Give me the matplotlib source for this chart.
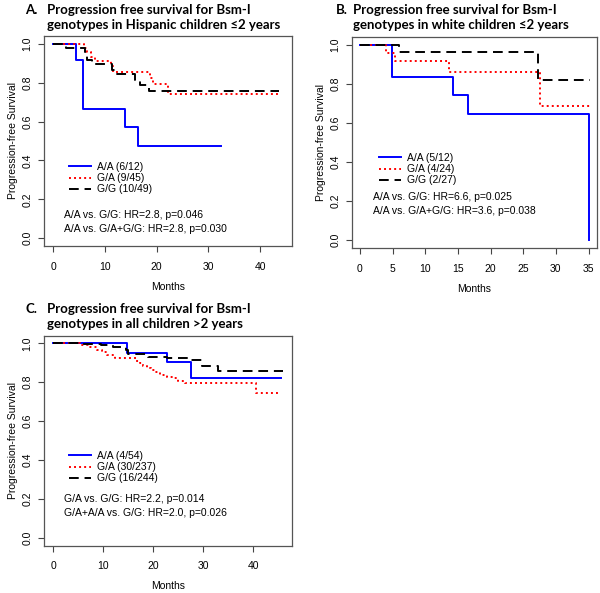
import numpy as np
import matplotlib
matplotlib.use("Agg")
import matplotlib.pyplot as plt
from matplotlib.lines import Line2D

plt.rcParams['font.family'] = ['Liberation Sans', 'DejaVu Sans']

# ---- Panel A: Hispanic children <=2 years
a_aa_t = [0, 4.4, 5.7, 13.9, 16.4]
a_aa_s = [1.0, 0.917, 0.667, 0.571, 0.476]
a_aa_end = 32.4
a_ga_t = [0, 6.0, 6.6, 7.3, 8.0, 11.1, 11.6, 18.7, 19.3, 22.2]
a_ga_s = [1.0, 0.978, 0.956, 0.933, 0.911, 0.885, 0.856, 0.826, 0.793, 0.744]
a_ga_end = 43.8
a_gg_t = [0, 2.5, 6.1, 6.6, 7.4, 11.3, 12.1, 15.8, 16.8, 18.6]
a_gg_s = [1.0, 0.98, 0.959, 0.918, 0.898, 0.867, 0.845, 0.815, 0.79, 0.755]
a_gg_end = 43.6
a_labels = ["A/A (6/12)", "G/A (9/45)", "G/G (10/49)"]
a_stats = ["A/A vs. G/G: HR=2.8, p=0.046", "A/A vs. G/A+G/G: HR=2.8, p=0.030"]

# ---- Panel B: white children <=2 years
b_aa_t = [0, 4.95, 14.2, 16.6, 35.1]
b_aa_s = [1.0, 0.833, 0.741, 0.648, 0.0]
b_aa_end = 35.1
b_ga_t = [0, 4.0, 5.4, 13.7, 27.6]
b_ga_s = [1.0, 0.958, 0.915, 0.86, 0.688]
b_ga_end = 35.3
b_gg_t = [0, 6.0, 27.2]
b_gg_s = [1.0, 0.962, 0.822]
b_gg_end = 35.3
b_labels = ["A/A (5/12)", "G/A (4/24)", "G/G (2/27)"]
b_stats = ["A/A vs. G/G: HR=6.6, p=0.025", "A/A vs. G/A+G/G: HR=3.6, p=0.038"]

# ---- Panel C: all children >2 years
c_aa_t = [0, 14.8, 22.8, 27.6]
c_aa_s = [1.0, 0.952, 0.903, 0.82]
c_aa_end = 45.5
c_ga_t = [0, 5.3, 7.0, 8.7, 9.7, 10.7, 12.3, 16.5, 17.3, 18.0, 18.7, 19.5,
          20.3, 21.3, 22.7, 24.0, 25.0, 26.3, 40.5]
c_ga_s = [1.0, 0.99, 0.98, 0.966, 0.955, 0.94, 0.923, 0.91, 0.897, 0.885,
          0.872, 0.862, 0.85, 0.838, 0.829, 0.82, 0.807, 0.798, 0.744]
c_ga_end = 45.3
c_gg_t = [0, 5.5, 9.5, 12.0, 14.5, 15.0, 19.0, 22.7, 27.5, 29.7, 33.0]
c_gg_s = [1.0, 0.995, 0.99, 0.98, 0.966, 0.945, 0.932, 0.923, 0.915, 0.885, 0.86]
c_gg_end = 45.9
c_labels = ["A/A (4/54)", "G/A (30/237)", "G/G (16/244)"]
c_stats = ["G/A vs. G/G: HR=2.2, p=0.014", "G/A+A/A vs. G/G: HR=2.0, p=0.026"]

styles = [dict(color="#0000ff", ls="-", lw=1.4),
          dict(color="#ff0000", ls=(0, (1, 1.6)), lw=1.4),
          dict(color="#000000", ls=(0, (5, 3)), lw=1.4)]

fig = plt.figure(figsize=(6, 5.93), dpi=100)


def km_panel(rect, curves, xlim, xticks, labels, stats, leg_xy, stat_xy):
    ax = fig.add_axes(rect)
    for (t, s, end), st in zip(curves, styles):
        ax.step(list(t) + [end], list(s) + [s[-1]], where="post", **st)
    ax.set_xlim(*xlim)
    ax.set_ylim(-0.04, 1.04)
    ax.set_xticks(xticks)
    ax.set_yticks([0, 0.2, 0.4, 0.6, 0.8, 1.0])
    ax.set_yticklabels(["0.0", "0.2", "0.4", "0.6", "0.8", "1.0"],
                       rotation=90, va="center")
    ax.tick_params(labelsize=7.5, length=4.5, color="#444444")
    ax.tick_params(axis="x", pad=7)
    ax.tick_params(axis="y", pad=4)
    for sp in ax.spines.values():
        sp.set_color("#555555")
        sp.set_linewidth(0.9)
    ax.set_xlabel("Months", fontsize=7.5, labelpad=7)
    ax.set_ylabel("Progression-free Survival", fontsize=7.5, labelpad=3)
    handles = [Line2D([0], [0], **st) for st in styles]
    ax.legend(handles, labels, loc="upper left", bbox_to_anchor=leg_xy,
              frameon=False, fontsize=7.5, handlelength=2.1,
              handletextpad=0.5, labelspacing=0.12, borderaxespad=0)
    ax.text(stat_xy[0], stat_xy[1], stats[0], transform=ax.transAxes,
            fontsize=7.5, va="center")
    ax.text(stat_xy[0], stat_xy[1] - 0.066, stats[1], transform=ax.transAxes,
            fontsize=7.5, va="center")
    return ax


km_panel([0.0738, 0.5852, 0.4123, 0.3541],
         [(a_aa_t, a_aa_s, a_aa_end), (a_ga_t, a_ga_s, a_ga_end),
          (a_gg_t, a_gg_s, a_gg_end)],
         (-1.74, 46.1), [0, 10, 20, 30, 40], a_labels, a_stats,
         (0.085, 0.42), (0.08, 0.148))

km_panel([0.5867, 0.5818, 0.4083, 0.3558],
         [(b_aa_t, b_aa_s, b_aa_end), (b_ga_t, b_ga_s, b_ga_end),
          (b_gg_t, b_gg_s, b_gg_end)],
         (-1.22, 36.3), [0, 5, 10, 15, 20, 25, 30, 35], b_labels, b_stats,
         (0.095, 0.47), (0.085, 0.24))

km_panel([0.0738, 0.0801, 0.4123, 0.3541],
         [(c_aa_t, c_aa_s, c_aa_end), (c_ga_t, c_ga_s, c_ga_end),
          (c_gg_t, c_gg_s, c_gg_end)],
         (-1.8, 47.7), [0, 10, 20, 30, 40], c_labels, c_stats,
         (0.085, 0.47), (0.08, 0.22))

# panel titles
tfont = dict(family=["Lato", "DejaVu Sans"], fontsize=9.5, fontweight="bold",
             va="center")
titles = [("A.", "Progression free survival for Bsm-I",
           "genotypes in Hispanic children \u22642 years", 25, 47, 10, 25),
          ("B.", "Progression free survival for Bsm-I",
           "genotypes in white children \u22642 years", 336, 353, 10, 25),
          ("C.", "Progression free survival for Bsm-I",
           "genotypes in all children >2 years", 25, 47, 309, 324)]
for lab, l1, l2, xa, xb, y1, y2 in titles:
    fig.text(xa / 600, 1 - y1 / 593, lab, **tfont)
    fig.text(xb / 600, 1 - y1 / 593, l1, **tfont)
    fig.text(xb / 600, 1 - y2 / 593, l2, **tfont)

fig.savefig("out.png", dpi=100)
